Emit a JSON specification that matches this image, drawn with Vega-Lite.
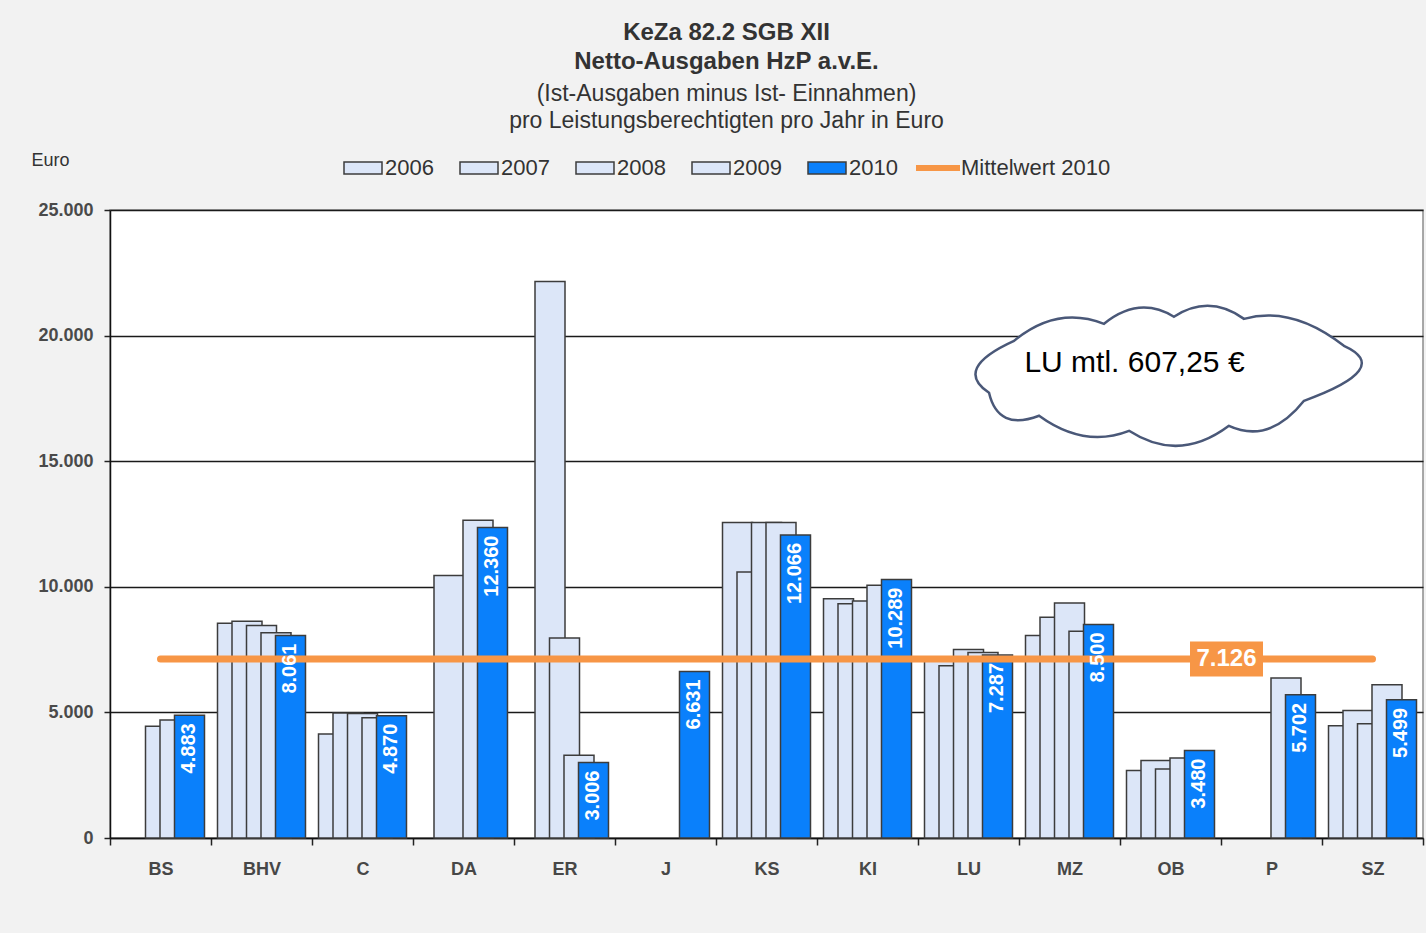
{
  "$schema": "https://vega.github.io/schema/vega-lite/v6.json",
  "width": 1313,
  "height": 628,
  "autosize": {"type": "none"},
  "padding": {"left": 110, "top": 210, "right": 3, "bottom": 95},
  "background": "#f2f2f2",
  "config": {
    "locale": {"number": {"decimal": ",", "thousands": ".", "grouping": [3], "currency": ["", " €"]}},
    "font": "Liberation Sans",
    "view": {"fill": "white", "stroke": "#8c8c8c", "strokeWidth": 1.5}
  },
  "title": {
    "text": ["KeZa 82.2 SGB XII", "Netto-Ausgaben HzP a.v.E."],
    "subtitle": ["(Ist-Ausgaben minus Ist- Einnahmen)", "pro Leistungsberechtigten pro Jahr in Euro"],
    "anchor": "middle",
    "frame": "group",
    "dx": -40,
    "offset": 10,
    "fontSize": 24,
    "fontWeight": "bold",
    "color": "#333333",
    "lineHeight": 29,
    "subtitleFontSize": 23,
    "subtitleColor": "#333333",
    "subtitleLineHeight": 27,
    "subtitlePadding": 9
  },
  "datasets": {
    "bars": [
      {"city": "BS", "year": "2008", "value": 4450},
      {"city": "BS", "year": "2009", "value": 4700},
      {"city": "BS", "year": "2010", "value": 4883},
      {"city": "BHV", "year": "2006", "value": 8550},
      {"city": "BHV", "year": "2007", "value": 8630},
      {"city": "BHV", "year": "2008", "value": 8460},
      {"city": "BHV", "year": "2009", "value": 8170},
      {"city": "BHV", "year": "2010", "value": 8061},
      {"city": "C", "year": "2006", "value": 4140},
      {"city": "C", "year": "2007", "value": 4975},
      {"city": "C", "year": "2008", "value": 4960},
      {"city": "C", "year": "2009", "value": 4790},
      {"city": "C", "year": "2010", "value": 4870},
      {"city": "DA", "year": "2007", "value": 10450},
      {"city": "DA", "year": "2009", "value": 12650},
      {"city": "DA", "year": "2010", "value": 12360},
      {"city": "ER", "year": "2007", "value": 22150},
      {"city": "ER", "year": "2008", "value": 7960},
      {"city": "ER", "year": "2009", "value": 3290},
      {"city": "ER", "year": "2010", "value": 3006},
      {"city": "J", "year": "2010", "value": 6631},
      {"city": "KS", "year": "2006", "value": 12560},
      {"city": "KS", "year": "2007", "value": 10590},
      {"city": "KS", "year": "2008", "value": 12560},
      {"city": "KS", "year": "2009", "value": 12560},
      {"city": "KS", "year": "2010", "value": 12066},
      {"city": "KI", "year": "2006", "value": 9520},
      {"city": "KI", "year": "2007", "value": 9330},
      {"city": "KI", "year": "2008", "value": 9430},
      {"city": "KI", "year": "2009", "value": 10060},
      {"city": "KI", "year": "2010", "value": 10289},
      {"city": "LU", "year": "2006", "value": 7150},
      {"city": "LU", "year": "2007", "value": 6860},
      {"city": "LU", "year": "2008", "value": 7500},
      {"city": "LU", "year": "2009", "value": 7380},
      {"city": "LU", "year": "2010", "value": 7287},
      {"city": "MZ", "year": "2006", "value": 8060},
      {"city": "MZ", "year": "2007", "value": 8790},
      {"city": "MZ", "year": "2008", "value": 9360},
      {"city": "MZ", "year": "2009", "value": 8230},
      {"city": "MZ", "year": "2010", "value": 8500},
      {"city": "OB", "year": "2006", "value": 2690},
      {"city": "OB", "year": "2007", "value": 3090},
      {"city": "OB", "year": "2008", "value": 2750},
      {"city": "OB", "year": "2009", "value": 3180},
      {"city": "OB", "year": "2010", "value": 3480},
      {"city": "P", "year": "2009", "value": 6370},
      {"city": "P", "year": "2010", "value": 5702},
      {"city": "SZ", "year": "2006", "value": 4470},
      {"city": "SZ", "year": "2007", "value": 5080},
      {"city": "SZ", "year": "2008", "value": 4550},
      {"city": "SZ", "year": "2009", "value": 6100},
      {"city": "SZ", "year": "2010", "value": 5499}
    ],
    "mean": [{"series": "Mittelwert 2010", "value": 7126}],
    "note": [{"text": "LU mtl.  607,25 €"}]
  },
  "layer": [
    {
      "data": {"name": "bars"},
      "mark": {"type": "bar", "width": 30, "stroke": "#3c3c3c", "strokeWidth": 1.5},
      "encoding": {
        "x": {
          "field": "city", "type": "nominal",
          "sort": ["BS", "BHV", "C", "DA", "ER", "J", "KS", "KI", "LU", "MZ", "OB", "P", "SZ"],
          "scale": {"paddingInner": 0, "paddingOuter": 0},
          "axis": {"title": null, "tickBand": "extent", "labelAngle": 0, "labelFontSize": 18, "labelFontWeight": "bold", "labelColor": "#474747", "labelPadding": 15, "tickSize": 7, "tickColor": "#222222", "tickWidth": 1.5, "domainColor": "#111111", "domainWidth": 1.5, "grid": false}
        },
        "xOffset": {"field": "year", "type": "nominal", "scale": {"paddingInner": 0, "paddingOuter": 0.983}},
        "y": {
          "field": "value", "type": "quantitative", "stack": null,
          "scale": {"domain": [0, 25000], "nice": false},
          "axis": {"title": "Euro", "titleAngle": 0, "titleX": -79, "titleY": -50, "titleAlign": "left", "titleBaseline": "middle", "titleFontSize": 18, "titleFontWeight": "normal", "titleColor": "#333333", "values": [0, 5000, 10000, 15000, 20000, 25000], "format": ",d", "labelFontSize": 18, "labelFontWeight": "bold", "labelColor": "#4a4a4a", "labelPadding": 11, "tickSize": 6, "tickColor": "#222222", "tickWidth": 1.5, "grid": true, "gridColor": "#1a1a1a", "gridWidth": 1.3, "domainColor": "#111111", "domainWidth": 1.5}
        },
        "color": {
          "field": "year", "type": "nominal",
          "scale": {"domain": ["2006", "2007", "2008", "2009", "2010"], "range": ["#dce6f8", "#dce6f8", "#dce6f8", "#dce6f8", "#0a80fb"]},
          "legend": {
            "title": null, "orient": "none", "legendX": 233, "legendY": -62, "direction": "horizontal",
            "symbolType": "M-1,-0.32H1V0.32H-1Z", "symbolSize": 1444, "symbolStrokeColor": "#3c3c3c", "symbolStrokeWidth": 1.5,
            "labelFontSize": 22, "labelColor": "#333333", "labelOffset": 2, "columnPadding": 23, "padding": 0, "labelLimit": 300
          }
        }
      }
    },
    {
      "data": {"name": "mean"},
      "mark": {"type": "rule", "strokeWidth": 7, "strokeCap": "round"},
      "encoding": {
        "x": {"datum": "BS"},
        "x2": {"datum": "SZ"},
        "y": {"field": "value", "type": "quantitative", "scale": {"domain": [0, 25000], "nice": false}},
        "stroke": {
          "field": "series", "type": "nominal",
          "scale": {"range": ["#f79646"]},
          "legend": {
            "title": null, "orient": "none", "legendX": 803, "legendY": -67, "direction": "horizontal",
            "symbolType": "stroke", "symbolSize": 1936, "symbolStrokeWidth": 6, "symbolStrokeColor": "#f79646",
            "labelFontSize": 22, "labelColor": "#333333", "labelOffset": -2, "padding": 0, "labelLimit": 300
          }
        }
      }
    },
    {
      "data": {"name": "bars"},
      "transform": [{"filter": "datum.year === '2010'"}],
      "mark": {"type": "text", "angle": 270, "align": "right", "baseline": "middle", "dx": -8, "fontSize": 20, "fontWeight": "bold", "fill": "white"},
      "encoding": {
        "x": {"field": "city", "type": "nominal", "sort": ["BS", "BHV", "C", "DA", "ER", "J", "KS", "KI", "LU", "MZ", "OB", "P", "SZ"]},
        "xOffset": {"field": "year", "type": "nominal"},
        "y": {"field": "value", "type": "quantitative", "scale": {"domain": [0, 25000], "nice": false}},
        "text": {"field": "value", "type": "quantitative", "format": ",d"}
      }
    },
    {
      "data": {"name": "mean"},
      "mark": {"type": "point", "shape": "M-1,-0.48H1V0.48H-1Z", "size": 5329, "filled": true, "fill": "#f79646", "strokeWidth": 0, "opacity": 1, "xOffset": -45},
      "encoding": {
        "x": {"datum": "P"},
        "y": {"field": "value", "type": "quantitative", "scale": {"domain": [0, 25000], "nice": false}}
      }
    },
    {
      "data": {"name": "mean"},
      "mark": {"type": "text", "fontSize": 24, "fontWeight": "bold", "fill": "white", "align": "center", "baseline": "middle", "dx": -45},
      "encoding": {
        "x": {"datum": "P"},
        "y": {"field": "value", "type": "quantitative", "scale": {"domain": [0, 25000], "nice": false}},
        "text": {"field": "value", "type": "quantitative", "format": ",d"}
      }
    },
    {
      "data": {"name": "note"},
      "mark": {"type": "point", "shape": "M-0.937,0.089Q-1.128,-0.037,-0.806,-0.183Q-0.581,-0.369,-0.335,-0.272Q-0.152,-0.421,0.031,-0.309Q0.215,-0.429,0.398,-0.298Q0.649,-0.369,0.921,-0.157Q1.183,-0.039,0.712,0.131Q0.531,0.359,0.319,0.262Q0.058,0.458,-0.204,0.288Q-0.44,0.38,-0.675,0.209Q-0.89,0.291,-0.937,0.089Z", "size": 145924, "filled": true, "fill": "white", "stroke": "#4a5878", "strokeWidth": 2.5, "opacity": 1, "xOffset": -2.5},
      "encoding": {
        "x": {"datum": "OB"},
        "y": {"datum": 18400, "scale": {"domain": [0, 25000], "nice": false}}
      }
    },
    {
      "data": {"name": "note"},
      "mark": {"type": "text", "fontSize": 30, "fill": "black", "align": "center", "baseline": "middle", "dx": -36},
      "encoding": {
        "x": {"datum": "OB"},
        "y": {"datum": 18900, "scale": {"domain": [0, 25000], "nice": false}},
        "text": {"field": "text"}
      }
    }
  ]
}
